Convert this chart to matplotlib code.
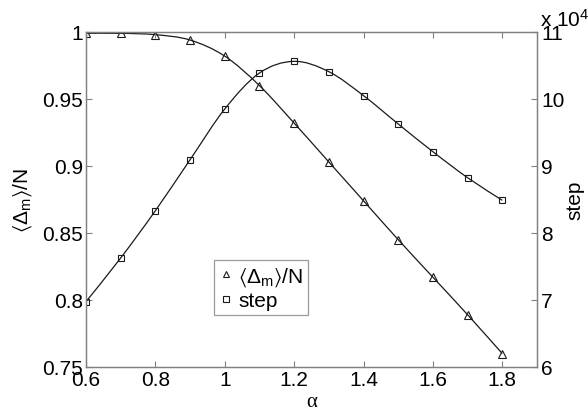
import numpy as np
import matplotlib
matplotlib.use("Agg")
import matplotlib.pyplot as plt
from matplotlib.path import Path
from matplotlib.patches import PathPatch
from matplotlib.lines import Line2D

plt.rcParams['font.family'] = ['Liberation Sans', 'DejaVu Sans']
plt.rcParams['mathtext.fontset'] = 'custom'
plt.rcParams['mathtext.rm'] = 'Liberation Sans'
plt.rcParams['mathtext.it'] = 'Liberation Sans'
plt.rcParams['mathtext.bf'] = 'Liberation Sans:bold'
plt.rcParams['mathtext.fallback'] = 'stixsans'

# data
alpha = [0.6, 0.7, 0.8, 0.9, 1.0, 1.1, 1.2, 1.3, 1.4, 1.5, 1.6, 1.7, 1.8]
delta_ratio = [0.999, 0.999, 0.998, 0.994, 0.982, 0.960, 0.932, 0.903,
               0.874, 0.845, 0.817, 0.789, 0.760]
steps = [6.975, 7.627, 8.333, 9.094, 9.851, 10.388, 10.562, 10.408,
         10.050, 9.627, 9.213, 8.825, 8.488]  # in units of 1e4

x_ticks = [0.6, 0.8, 1.0, 1.2, 1.4, 1.6, 1.8]
x_tick_labels = ['0.6', '0.8', '1', '1.2', '1.4', '1.6', '1.8']
left_ticks = [0.75, 0.8, 0.85, 0.9, 0.95, 1.0]
left_tick_labels = ['0.75', '0.8', '0.85', '0.9', '0.95', '1']
right_ticks = [6, 7, 8, 9, 10, 11]
right_tick_labels = ['6', '7', '8', '9', '10', '11']

GRAY = '#808080'
INK = '#1a1a1a'
FS = 15
LABEL = r'$\langle\Delta_{\mathrm{m}}\rangle$/N'


def smooth_path(xs, ys):
    """Catmull-Rom curve through the points, as cubic Bezier segments."""
    p = np.column_stack([xs, ys]).astype(float)
    ext = np.vstack([p[0], p, p[-1]])
    verts = [p[0]]
    codes = [Path.MOVETO]
    for i in range(len(p) - 1):
        p0, p1, p2, p3 = ext[i], ext[i + 1], ext[i + 2], ext[i + 3]
        c1 = p1 + (p2 - p0) / 6.0
        c2 = p2 - (p3 - p1) / 6.0
        verts += [c1, c2, p2]
        codes += [Path.CURVE4] * 3
    return Path(verts, codes)


fig = plt.figure(figsize=(5.88, 4.14), dpi=100)
ax = fig.add_axes([86 / 588, 1 - 368 / 414, 451 / 588, 335 / 414])
ax2 = ax.twinx()

ax.add_patch(PathPatch(smooth_path(alpha, delta_ratio), fc='none',
                       ec=INK, lw=0.9))
ax.plot(alpha, delta_ratio, ls='none', marker='^', ms=6.4, mfc='none',
        mec=INK, mew=0.8)

ax2.add_patch(PathPatch(smooth_path(alpha, steps), fc='none',
                        ec=INK, lw=0.9))
ax2.plot(alpha, steps, ls='none', marker='s', ms=5.0, mfc='none',
         mec=INK, mew=0.8)

ax.set_xlim(0.6, 1.9)
ax.set_ylim(0.75, 1.0)
ax2.set_ylim(6, 11)

ax.set_xticks(x_ticks)
ax.set_xticklabels(x_tick_labels)
ax.set_yticks(left_ticks)
ax.set_yticklabels(left_tick_labels)
ax2.set_yticks(right_ticks)
ax2.set_yticklabels(right_tick_labels)

for a in (ax, ax2):
    for s in a.spines.values():
        s.set_color(GRAY)
        s.set_linewidth(0.9)
ax.tick_params(axis='x', direction='in', top=True, bottom=True, length=4,
               color=GRAY, labelsize=FS, pad=2)
ax.tick_params(axis='y', direction='in', left=True, right=False, length=4,
               color=GRAY, labelsize=FS, pad=2)
ax2.tick_params(axis='y', direction='in', right=True, left=False, length=4,
                color=GRAY, labelsize=FS, pad=3)

ax.set_xlabel('α', fontsize=FS, family=['Liberation Serif'], labelpad=2)
ax.set_ylabel(LABEL, fontsize=FS, labelpad=6)
ax2.set_ylabel('step', fontsize=FS, rotation=90, labelpad=1)

fig.text(540 / 588, 1 - 27 / 414, r'x 10$^{4}$', fontsize=FS,
         ha='left', va='baseline')

handles = [
    Line2D([], [], ls='none', marker='^', ms=4.5, mfc='none', mec=INK,
           mew=0.8),
    Line2D([], [], ls='none', marker='s', ms=4.0, mfc='none', mec=INK,
           mew=0.8),
]
leg = ax2.legend(handles, [LABEL, 'step'],
                 loc='lower left', bbox_to_anchor=(0.284, 0.155),
                 fontsize=FS, frameon=True, fancybox=False, handlelength=0.6,
                 handletextpad=0.3, borderpad=0.25, labelspacing=0.15,
                 borderaxespad=0)
leg.get_frame().set_edgecolor(GRAY)
leg.get_frame().set_linewidth(0.9)

fig.savefig('out.png', dpi=100)
